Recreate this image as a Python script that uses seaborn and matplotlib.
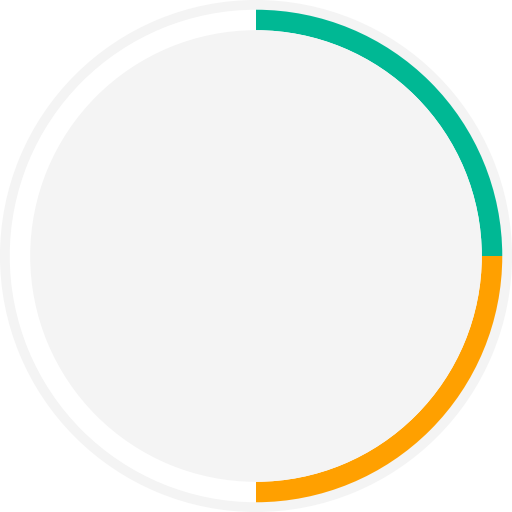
import matplotlib
matplotlib.use("Agg")
import matplotlib.pyplot as plt
import seaborn as sns

sns.set_theme(style="white")

# progress ring: two filled quarters, rest empty
segments = ["Complete A", "Complete B", "Remaining"]
values = [25, 25, 50]
colors = ["#00b894", "#ffa000", "#ffffff"]

fig = plt.figure(figsize=(5.12, 5.12), dpi=100)
ax = fig.add_axes([0, 0, 1, 1])
ax.set_aspect("equal")
ax.axis("off")

# outer light gray rim
ax.pie([1], radius=1.0, colors=["#f4f4f4"], startangle=90,
       wedgeprops=dict(width=0.04, linewidth=0))
# colored ring
ax.pie(values, radius=0.962, colors=colors, startangle=90, counterclock=False,
       wedgeprops=dict(width=0.08, linewidth=0))
# inner disc
ax.pie([1], radius=0.882, colors=["#f4f4f4"], wedgeprops=dict(linewidth=0))

ax.set_xlim(-1, 1)
ax.set_ylim(-1, 1)
fig.savefig("out.png", dpi=100, facecolor="white")
